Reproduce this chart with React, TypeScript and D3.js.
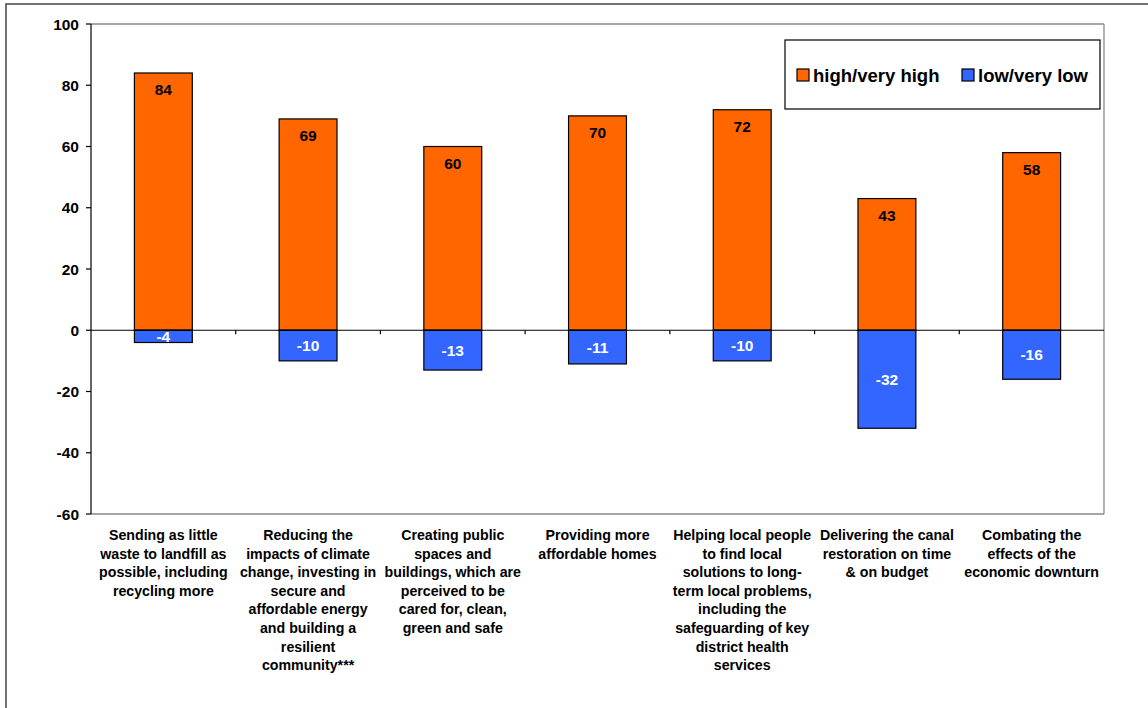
import React from "react";
import * as d3 from "d3";

// Survey priorities: share rating each item high/very high vs low/very low
const categories: string[][] = [
  ["Sending as little", "waste to landfill as", "possible, including", "recycling more"],
  ["Reducing the", "impacts of climate", "change, investing in", "secure and", "affordable energy", "and building a", "resilient", "community***"],
  ["Creating public", "spaces and", "buildings, which are", "perceived to be", "cared for, clean,", "green and safe"],
  ["Providing more", "affordable homes"],
  ["Helping local people", "to find local", "solutions to long-", "term local problems,", "including the", "safeguarding of key", "district health", "services"],
  ["Delivering the canal", "restoration on time", "& on budget"],
  ["Combating the", "effects of the", "economic downturn"],
];
const highValues = [84, 69, 60, 70, 72, 43, 58];
const lowValues = [-4, -10, -13, -11, -10, -32, -16];
const yTicks = [-60, -40, -20, 0, 20, 40, 60, 80, 100];
const seriesNames = ["high/very high", "low/very low"];

const ORANGE = "#FF6600";
const BLUE = "#3366FF";
const FONT = "'Liberation Sans', Arial, sans-serif";

export default function App() {
  const W = 1148;
  const H = 708;
  const left = 91;
  const right = 1104;
  const top = 24;
  const bottom = 514;

  const ids = categories.map((_, i) => String(i));
  const x = d3.scaleBand<string>().domain(ids).range([left, right]).paddingInner(0.6).paddingOuter(0.3);
  const y = d3.scaleLinear().domain([-60, 100]).range([bottom, top]);
  const step = x.step();
  const bw = x.bandwidth();
  const y0 = y(0);

  return (
    <svg width={W} height={H} style={{ position: "absolute", left: 0, top: 0, background: "#fff" }} fontFamily={FONT}>
      {/* outer chart frame */}
      <rect x={6} y={4} width={W + 20} height={H + 20} fill="#fff" stroke="#444" strokeWidth={1.5} />

      {/* plot area frame */}
      <line x1={left} x2={right} y1={top} y2={top} stroke="#888" strokeWidth={1.3} />
      <line x1={right} x2={right} y1={top} y2={bottom} stroke="#888" strokeWidth={1.3} />
      <line x1={left} x2={right} y1={bottom} y2={bottom} stroke="#888" strokeWidth={1.3} />

      {/* bars */}
      {ids.map((id, i) => (
        <g key={id}>
          <rect x={x(id)} y={y(highValues[i])} width={bw} height={y0 - y(highValues[i])} fill={ORANGE} stroke="#000" strokeWidth={1.2} />
          <rect x={x(id)} y={y0} width={bw} height={y(lowValues[i]) - y0} fill={BLUE} stroke="#000" strokeWidth={1.2} />
          <text x={(x(id) as number) + bw / 2} y={y(highValues[i]) + 22} textAnchor="middle" fontSize={15.5} fontWeight="bold" fill="#000">
            {highValues[i]}
          </text>
          <text x={(x(id) as number) + bw / 2} y={(y0 + y(lowValues[i])) / 2 + 5.5} textAnchor="middle" fontSize={15.5} fontWeight="bold" fill="#fff">
            {lowValues[i]}
          </text>
        </g>
      ))}

      {/* y axis */}
      <line x1={left} x2={left} y1={top} y2={bottom} stroke="#000" strokeWidth={1.2} />
      {yTicks.map((t) => (
        <g key={t}>
          <line x1={left - 5} x2={left} y1={y(t)} y2={y(t)} stroke="#000" strokeWidth={1.2} />
          <text x={left - 12} y={y(t) + 5.5} textAnchor="end" fontSize={15.5} fontWeight="bold" fill="#000">
            {t}
          </text>
        </g>
      ))}

      {/* zero axis with category ticks */}
      <line x1={left} x2={right} y1={y0} y2={y0} stroke="#000" strokeWidth={1.2} />
      {d3.range(1, categories.length).map((k) => (
        <line key={k} x1={left + k * step} x2={left + k * step} y1={y0} y2={y0 + 4} stroke="#000" strokeWidth={1.2} />
      ))}

      {/* category labels */}
      {ids.map((id, i) => (
        <text key={id} x={(x(id) as number) + bw / 2} textAnchor="middle" fontSize={14.2} fontWeight="bold" fill="#000">
          {categories[i].map((line, j) => (
            <tspan key={j} x={(x(id) as number) + bw / 2} y={540 + j * 18.6}>
              {line}
            </tspan>
          ))}
        </text>
      ))}

      {/* legend */}
      <rect x={785} y={40} width={315} height={69} fill="#fff" stroke="#000" strokeWidth={1.2} />
      <rect x={797} y={69} width={12} height={12} fill={ORANGE} stroke="#000" strokeWidth={1.2} />
      <text x={813} y={81.5} fontSize={18.5} fontWeight="bold" fill="#000">{seriesNames[0]}</text>
      <rect x={962} y={69} width={12} height={12} fill={BLUE} stroke="#000" strokeWidth={1.2} />
      <text x={978} y={81.5} fontSize={18.5} fontWeight="bold" fill="#000">{seriesNames[1]}</text>
    </svg>
  );
}
